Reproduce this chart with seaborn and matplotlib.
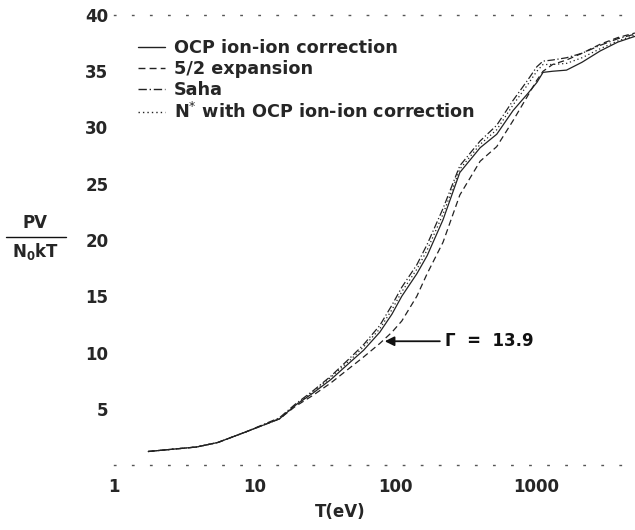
import numpy as np
import pandas as pd
import matplotlib
matplotlib.use("Agg")
import matplotlib.pyplot as plt
from matplotlib.lines import Line2D
import seaborn as sns

# ---- data ----
T_eV = [1.75, 2.59, 3.86, 5.46, 8.48, 15.0, 19.4, 26.0, 34.8, 49.3, 59.4, 77.4, 94.4, 111,
        142, 168, 218, 287, 400, 525, 685, 870, 1012, 1120, 1310, 1645, 2120, 2850, 3820, 5040]
ocp = [1.2, 1.4, 1.6, 2.0, 2.9, 4.1, 5.3, 6.4, 7.6, 9.3, 10.2, 11.8, 13.4, 15.0, 17.0, 18.6,
       21.8, 26.0, 28.2, 29.4, 31.5, 33.0, 34.0, 34.9, 35.0, 35.1, 35.8, 36.8, 37.6, 38.1]
expansion = [1.2, 1.4, 1.6, 2.0, 2.9, 4.1, 5.2, 6.2, 7.3, 8.8, 9.6, 10.8, 11.8, 12.8, 15.0, 17.0,
             19.8, 24.0, 27.0, 28.3, 30.6, 32.8, 34.2, 35.0, 35.6, 36.0, 36.6, 37.4, 38.0, 38.4]
saha = [1.2, 1.4, 1.6, 2.0, 2.9, 4.2, 5.4, 6.6, 7.9, 9.7, 10.7, 12.4, 14.2, 15.8, 17.8, 19.6,
        22.8, 26.6, 28.8, 30.2, 32.4, 34.2, 35.4, 35.9, 36.0, 36.2, 36.6, 37.3, 37.9, 38.3]
nstar = [1.2, 1.4, 1.6, 2.0, 2.9, 4.1, 5.3, 6.5, 7.8, 9.5, 10.5, 12.1, 13.8, 15.4, 17.4, 19.1,
         22.3, 26.3, 28.5, 29.8, 32.0, 33.8, 35.0, 35.6, 35.6, 35.7, 36.2, 37.0, 37.7, 38.2]

labels = ["OCP ion-ion correction", "5/2 expansion", "Saha",
          "N$^{*}$ with OCP ion-ion correction"]
x_ticks = [1, 10, 100, 1000]
x_ticklabels = ["1", "10", "100", "1000"]
y_ticks = [5, 10, 15, 20, 25, 30, 35, 40]
gamma_T = 84
gamma_val = 11.0
gamma_label = "\u0393  =  13.9"

series = [ocp, expansion, saha, nstar]
styles = ["-", (0, (5, 3)), (0, (6, 2, 1, 2)), (0, (1, 2.2))]

sns.set_theme(style="white")
plt.rcParams["font.family"] = ["DejaVu Sans"]
plt.rcParams["mathtext.fontset"] = "dejavusans"

fig = plt.figure(figsize=(6.35, 5.30), dpi=100)
W, H = 635, 530
ax = fig.add_axes([114 / W, (H - 465) / H, (635 - 114) / W, (465 - 15) / H])

for vals, ls, lab in zip(series, styles, labels):
    df = pd.DataFrame({"T": T_eV, "PV": vals})
    sns.lineplot(data=df, x="T", y="PV", ax=ax, color="#222222", linewidth=0.9,
                 linestyle=ls, label=lab, sort=True, errorbar=None)

ax.set_xscale("log")
ax.set_xlim(1, 5045)
ax.set_ylim(0, 40)
ax.set_xticks(x_ticks)
ax.set_xticklabels(x_ticklabels)
ax.xaxis.set_minor_locator(matplotlib.ticker.NullLocator())
ax.set_yticks(y_ticks)
ax.set_yticklabels([str(v) for v in y_ticks])
ax.tick_params(axis="both", length=2, width=1, color="#888888", direction="in",
               labelsize=12)
ax.tick_params(axis="y", pad=4)
ax.tick_params(axis="x", pad=9)
for lab in ax.get_xticklabels() + ax.get_yticklabels():
    lab.set_fontweight("bold")
ax.set_xlabel("")
ax.set_ylabel("")

for s in ["left", "right"]:
    ax.spines[s].set_visible(False)
for s in ["top", "bottom"]:
    ax.spines[s].set_linestyle((0, (1, 12)))
    ax.spines[s].set_color("#555555")
    ax.spines[s].set_linewidth(1.0)

leg = ax.legend(loc="upper left", bbox_to_anchor=(138 / W, 1 - 39 / H),
                bbox_transform=fig.transFigure, frameon=False, borderaxespad=0,
                borderpad=0, handlelength=1.55, handletextpad=0.5, labelspacing=0.17,
                prop={"size": 12.7, "weight": "bold"})
for line in leg.get_lines():
    line.set_linewidth(1.0)

# Gamma annotation
ax.annotate("", xy=(gamma_T, gamma_val), xytext=(207, gamma_val),
            arrowprops=dict(arrowstyle="-|>", color="#111111", lw=1.3,
                            mutation_scale=14, shrinkA=0, shrinkB=0))
ax.text(226, gamma_val, gamma_label, fontsize=12, fontweight="bold",
        va="center", ha="left", color="#111111")

# axis labels
fig.text(340 / W, 1 - 512 / H, "T(eV)", ha="center", va="center",
         fontsize=12, fontweight="bold")
fig.text(35 / W, 1 - 223 / H, "PV", ha="center", va="center", fontsize=12,
         fontweight="bold")
fig.add_artist(Line2D([6 / W, 66 / W], [1 - 237 / H, 1 - 237 / H],
                      color="#111111", lw=1.0, transform=fig.transFigure))
fig.text(35 / W, 1 - 251 / H, "N$_\\mathbf{0}$kT", ha="center", va="center",
         fontsize=12, fontweight="bold")

fig.savefig("out.png", dpi=100)
